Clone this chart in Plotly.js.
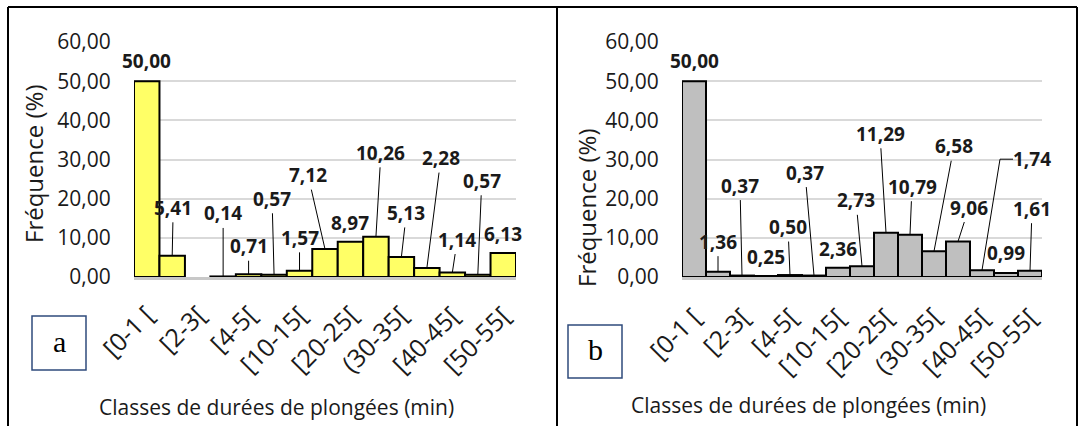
<!DOCTYPE html>
<html>
<head>
<meta charset="utf-8">
<script src="https://cdn.plot.ly/plotly-3.0.1.min.js"></script>
<style>
  html, body { margin: 0; padding: 0; background: #ffffff; }
  #chart { width: 1085px; height: 426px; }
</style>
</head>
<body>
<div id="chart"></div>
<script>
// Dive-duration classes (minutes)
const categories = ['[0-1 [', '[1-2[', '[2-3[', '[3-4[', '[4-5[', '[5-10[', '[10-15[', '[15-20[',
                    '[20-25[', '[25-30[', '(30-35[', '[35-40[', '[40-45[', '[45-50[', '[50-55['];
// Labelled ticks: every second class
const tickLabels = ['[0-1 [', '[2-3[', '[4-5[', '[10-15[', '[20-25[', '(30-35[', '[40-45[', '[50-55['];

// Frequency (%) per class
const freqA = [50.00, 5.41, null, 0.14, 0.71, 0.57, 1.57, 7.12, 8.97, 10.26, 5.13, 2.28, 1.14, 0.57, 6.13];
const freqB = [50.00, 1.36, 0.37, 0.25, 0.50, 0.37, 2.36, 2.73, 11.29, 10.79, 6.58, 9.06, 1.74, 0.99, 1.61];

// Value-label placement: [dx, dy] pixel offset of the label from the bar top, leader mode
// (0 = no leader, 1 = straight leader, 2 = elbow leader)
const labelPlaceA = [[0,-20,0],[1,-48,1],null,[0,-63,1],[0,-28,1],[-2,-76,1],[0,-33,1],[-17,-74,1],
                     [0,-19,0],[5,-84,1],[5,-44,1],[14,-110,1],[5,-33,1],[4,-94,1],[0,-19,0]];
const labelPlaceB = [[0,-20,0],[0,-30,1],[-2,-90,1],[0,-19,0],[-2,-48,1],[-9,-103,1],[0,-19,0],[-6,-66,1],
                     [-6,-99,1],[2,-48,1],[20,-105,1],[11,-34,1],[50,-111,2],[0,-20,0],[2,-62,1]];

const W = 1085, H = 426;
const FONT = 'Open Sans, Noto Sans, sans-serif';
const TXT = '#1a1a1a';
const idx = categories.map((_, i) => i);
const tickIdx = tickLabels.map(t => categories.indexOf(t));

const fmt = v => v.toFixed(2).replace('.', ',');
const px = v => v / W;
const py = v => 1 - v / H;

function bars(vals, fill, xa, ya) {
  return {
    type: 'bar', x: idx, y: vals, xaxis: xa, yaxis: ya,
    marker: { color: fill, line: { color: '#000000', width: 2 } },
    hoverinfo: 'skip', showlegend: false
  };
}

const annotations = [];
const shapes = [];

function addLabels(vals, place, xref, yref) {
  vals.forEach((v, i) => {
    if (v === null || !place[i]) return;
    const [dx, dy, mode] = place[i];
    const base = {
      x: i, y: v, xref: xref, yref: yref, text: '<b>' + fmt(v) + '</b>',
      font: { family: FONT, size: 19, color: TXT }
    };
    if (mode === 1) {
      annotations.push(Object.assign(base, {
        showarrow: true, ax: dx, ay: dy, axref: 'pixel', ayref: 'pixel',
        arrowhead: 0, arrowwidth: 1, arrowcolor: '#000000', standoff: 0, startstandoff: 0
      }));
    } else {
      annotations.push(Object.assign(base, {
        showarrow: false, xanchor: 'center', yanchor: 'middle', xshift: dx, yshift: -dy
      }));
      if (mode === 2) {
        shapes.push({
          type: 'path', xref: xref, yref: yref, xsizemode: 'pixel', ysizemode: 'pixel',
          xanchor: i, yanchor: v,
          path: 'M0,0 L' + (dx - 32) + ',' + (-dy) + ' L' + (dx - 19) + ',' + (-dy),
          line: { color: '#000000', width: 1 }
        });
      }
    }
  });
}
addLabels(freqA, labelPlaceA, 'x', 'y');
addLabels(freqB, labelPlaceB, 'x2', 'y2');

// Slanted class labels under each axis
function classLabels(xref, topPx, shift) {
  tickLabels.forEach((t, k) => {
    annotations.push({
      xref: xref, yref: 'paper', x: tickIdx[k], y: py(topPx), text: t, showarrow: false,
      textangle: -45, xanchor: 'right', yanchor: 'top', xshift: shift,
      font: { family: FONT, size: 25, color: TXT }
    });
  });
}
classLabels('x', 295, 17);
classLabels('x2', 297, 17);

// Axis titles
function title(text, x, y, angle, size) {
  annotations.push({
    xref: 'paper', yref: 'paper', x: px(x), y: py(y), text: text, showarrow: false,
    textangle: angle, xanchor: 'center', yanchor: 'middle',
    font: { family: FONT, size: size, color: TXT }
  });
}
title('Fréquence (%)', 33, 164, -90, 24);
title('Fréquence (%)', 587, 208, -90, 24);
title('Classes de durées de plongées (min)', 276, 407, 0, 21);
title('Classes de durées de plongées (min)', 808, 405, 0, 21);

// Panel letters in boxes
function letterBox(letter, x0, y0, x1, y1) {
  shapes.push({
    type: 'rect', xref: 'paper', yref: 'paper', x0: px(x0), x1: px(x1), y0: py(y0), y1: py(y1),
    line: { color: '#2f4b7c', width: 1.5 }, fillcolor: '#ffffff'
  });
  annotations.push({
    xref: 'paper', yref: 'paper', x: px((x0 + x1) / 2), y: py((y0 + y1) / 2 - 2), text: letter,
    showarrow: false, xanchor: 'center', yanchor: 'middle',
    font: { family: 'Liberation Serif, Times New Roman, serif', size: 30, color: '#000000' }
  });
}
letterBox('a', 32, 316, 86, 370);
letterBox('b', 568, 325, 622, 378);

// Frame around the two panels
const frame = { color: '#000000', width: 2 };
shapes.push({ type: 'line', xref: 'paper', yref: 'paper', x0: px(8), x1: px(1077), y0: py(7), y1: py(7), line: frame });
shapes.push({ type: 'line', xref: 'paper', yref: 'paper', x0: px(8), x1: px(8), y0: py(7), y1: 0, line: frame });
shapes.push({ type: 'line', xref: 'paper', yref: 'paper', x0: px(557), x1: px(557), y0: py(7), y1: 0, line: frame });
shapes.push({ type: 'line', xref: 'paper', yref: 'paper', x0: px(1077), x1: px(1077), y0: py(7), y1: 0, line: frame });

function xAxis(x0, x1, anchor) {
  return {
    domain: [px(x0), px(x1)], anchor: anchor, range: [-0.5, 14.5],
    tickmode: 'array', tickvals: tickIdx, showticklabels: false, ticks: '',
    showline: true, linecolor: '#c8c8c8', linewidth: 2.5,
    showgrid: false, zeroline: false, fixedrange: true
  };
}
function yAxis(anchor) {
  return {
    domain: [py(277), py(42)], anchor: anchor, range: [0, 60],
    tickmode: 'array', tickvals: [0, 10, 20, 30, 40, 50, 60], tickformat: '.2f',
    tickfont: { family: FONT, size: 21, color: TXT },
    ticks: 'outside', ticklen: 18, tickcolor: 'rgba(0,0,0,0)',
    showgrid: true, gridcolor: '#d9d9d9', gridwidth: 2,
    showline: false, zeroline: false, fixedrange: true
  };
}

const layout = {
  width: W, height: H, margin: { l: 0, r: 0, t: 0, b: 0 },
  paper_bgcolor: '#ffffff', plot_bgcolor: '#ffffff',
  separators: ',.', bargap: 0, showlegend: false,
  xaxis: xAxis(134, 516, 'y'), yaxis: yAxis('x'),
  xaxis2: xAxis(682, 1042, 'y2'), yaxis2: yAxis('x2'),
  annotations: annotations, shapes: shapes
};

Plotly.newPlot('chart', [
  bars(freqA, '#ffff66', 'x', 'y'),
  bars(freqB, '#bfbfbf', 'x2', 'y2')
], layout, { staticPlot: true, displayModeBar: false });
</script>
</body>
</html>
